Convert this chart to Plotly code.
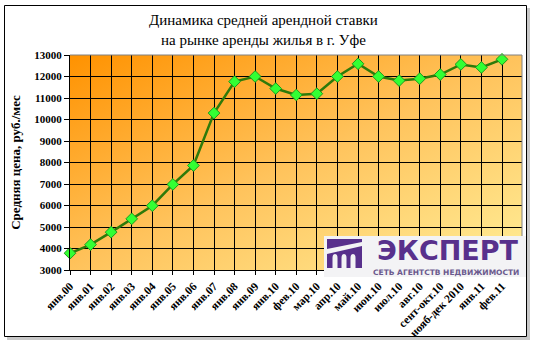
import base64
import plotly.graph_objects as go

categories = ["янв.00", "янв.01", "янв.02", "янв.03", "янв.04", "янв.05", "янв.06",
              "янв.07", "янв.08", "янв.09", "янв.10", "фев.10", "мар.10", "апр.10",
              "май.10", "июн.10", "июл.10", "авг.10", "сент-окт.10", "нояб-дек 2010",
              "янв.11", "фев.11"]
prices = [3780, 4180, 4760, 5380, 5990, 6980, 7860, 10300, 11760, 12000, 11440,
          11140, 11200, 12000, 12590, 12000, 11810, 11900, 12090, 12560, 12420, 12800]
y_ticks = [3000, 4000, 5000, 6000, 7000, 8000, 9000, 10000, 11000, 12000, 13000]

W_FIG, H_FIG = 536, 342
L, T, PW, PH = 70, 55, 452, 215


def px(p):
    return (p - L) / PW


def py(p):
    return (T + PH - p) / PH


svg = f'''<svg xmlns="http://www.w3.org/2000/svg" width="{PW}" height="{PH}" viewBox="0 0 {PW} {PH}" preserveAspectRatio="none">
<defs><linearGradient id="g" x1="0" y1="0" x2="1" y2="1">
<stop offset="0" stop-color="#FF9200"/>
<stop offset="0.5" stop-color="#FFC35C"/>
<stop offset="1" stop-color="#FFEE98"/>
</linearGradient></defs>
<rect x="0" y="0" width="{PW}" height="{PH}" fill="url(#g)"/></svg>'''
svg_uri = "data:image/svg+xml;base64," + base64.b64encode(svg.encode()).decode()

fig = go.Figure()
fig.add_trace(go.Scatter(
    x=list(range(len(categories))), y=prices, mode="lines+markers",
    line=dict(color="#2E7A0A", width=2.5),
    marker=dict(symbol="diamond", size=9, color="#33FF33",
                line=dict(color="#1E9A1E", width=1)),
    cliponaxis=False, showlegend=False, hoverinfo="skip"))

serif = "Liberation Serif, Times New Roman, serif"
n = len(categories)
xmax = (n - 1) * PW / 432

fig.update_layout(
    width=W_FIG, height=H_FIG,
    margin=dict(l=L, r=W_FIG - L - PW, t=T, b=H_FIG - T - PH),
    paper_bgcolor="white", plot_bgcolor="rgba(0,0,0,0)",
    images=[dict(source=svg_uri, xref="paper", yref="paper", x=0, y=1,
                 sizex=1, sizey=1, sizing="stretch", layer="below")],
    xaxis=dict(range=[0, xmax], tickmode="array", tickvals=list(range(n)),
               ticktext=categories, tickangle=-45, automargin=False,
               tickfont=dict(family=serif, size=11.5, color="black", weight="bold"),
               showgrid=True, gridcolor="black", gridwidth=1,
               showline=True, linecolor="black", linewidth=1,
               ticks="outside", ticklen=4, tickcolor="black", zeroline=False),
    yaxis=dict(range=[3000, 13000], tickmode="array", tickvals=y_ticks,
               ticktext=[str(v) for v in y_ticks], automargin=False,
               tickfont=dict(family=serif, size=11, color="black", weight="bold"),
               showgrid=True, gridcolor="black", gridwidth=1,
               showline=True, linecolor="black", linewidth=1,
               ticks="outside", ticklen=5, tickcolor="black", zeroline=False,
               title=dict(text="Средняя цена, руб./мес", standoff=10,
                          font=dict(family=serif, size=13, color="black", weight="bold"))),
)

shapes = []
# outer shadow strips and border
shapes.append(dict(type="rect", xref="paper", yref="paper", layer="below",
                   x0=px(527), x1=px(530), y0=py(8), y1=py(340),
                   line=dict(width=0), fillcolor="#C8C8C8"))
shapes.append(dict(type="rect", xref="paper", yref="paper", layer="below",
                   x0=px(7), x1=px(530), y0=py(337), y1=py(340),
                   line=dict(width=0), fillcolor="#C8C8C8"))
shapes.append(dict(type="rect", xref="paper", yref="paper", layer="below",
                   x0=px(4.5), x1=px(526.5), y0=py(5.5), y1=py(336.5),
                   line=dict(color="black", width=1), fillcolor="rgba(0,0,0,0)"))
# plot area top/right gray border
shapes.append(dict(type="path", xref="paper", yref="paper", layer="above",
                   path=f"M {px(L)} {py(T)} L {px(L+PW)} {py(T)} L {px(L+PW)} {py(T+PH)}",
                   line=dict(color="#808080", width=1)))
# logo background
shapes.append(dict(type="rect", xref="paper", yref="paper", layer="above",
                   x0=px(324), x1=px(526), y0=py(277), y1=py(236),
                   line=dict(width=0), fillcolor="#F3F3F5"))
purple = "#58308C"
# icon
shapes.append(dict(type="rect", xref="paper", yref="paper", layer="above",
                   x0=px(327), x1=px(362), y0=py(268), y1=py(239),
                   line=dict(width=0), fillcolor=purple))
shapes.append(dict(type="path", xref="paper", yref="paper", layer="above",
                   path=f"M {px(327)} {py(249)} L {px(362)} {py(242)} L {px(362)} {py(246)} L {px(327)} {py(254)} Z",
                   line=dict(width=0), fillcolor="#F3F3F5"))
for ax0 in (332.5, 341.5, 350.5):
    ax1 = ax0 + 5
    mid = (ax0 + ax1) / 2
    shapes.append(dict(type="path", xref="paper", yref="paper", layer="above",
                       path=(f"M {px(ax0)} {py(268)} L {px(ax0)} {py(258)} "
                             f"Q {px(ax0)} {py(254)} {px(mid)} {py(254)} "
                             f"Q {px(ax1)} {py(254)} {px(ax1)} {py(258)} "
                             f"L {px(ax1)} {py(268)} Z"),
                       line=dict(width=0), fillcolor="#F3F3F5"))
fig.update_layout(shapes=shapes)

annotations = [
    dict(text="Динамика средней арендной ставки", x=px(263), y=py(20),
         font=dict(family=serif, size=15, color="black")),
    dict(text="на рынке аренды жилья в г. Уфе", x=px(263), y=py(40),
         font=dict(family=serif, size=15, color="black")),
    dict(text="<b>ЭКСПЕРТ</b>", x=px(448), y=py(250),
         font=dict(family="DejaVu Sans", size=27, color=purple)),
    dict(text="<b>СЕТЬ АГЕНТСТВ НЕДВИЖИМОСТИ</b>", x=px(446), y=py(272),
         font=dict(family="DejaVu Sans", size=7.5, color="#6B5A8E")),
]
for a in annotations:
    a.update(xref="paper", yref="paper", showarrow=False, xanchor="center", yanchor="middle")
fig.update_layout(annotations=annotations)

fig.write_html("out.html")
